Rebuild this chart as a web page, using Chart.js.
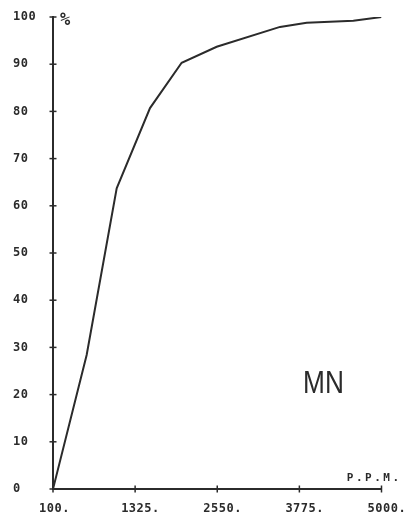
<!DOCTYPE html>
<html>
<head>
<meta charset="utf-8">
<script src="https://cdn.jsdelivr.net/npm/chart.js@4/dist/chart.umd.min.js"></script>
<style>
  html, body { margin: 0; padding: 0; background: #ffffff; }
  #wrap { width: 416px; height: 516px; }
</style>
</head>
<body>
<div id="wrap"><canvas id="c" width="416" height="516"></canvas></div>
<script>
// ---- data ----
const ppmValues = [100, 602, 1050, 1547, 2019, 2542, 3486, 3884, 4580, 5000];
const percentValues = [0, 28.4, 63.7, 80.7, 90.3, 93.7, 97.9, 98.8, 99.2, 100];
const xTickValues = [100, 1325, 2550, 3775, 5000];
const xTickLabels = ['100.', '1325.', '2550.', '3775.', '5000.'];
const yTickValues = [0, 10, 20, 30, 40, 50, 60, 70, 80, 90, 100];
const yUnitLabel = '%';
const xUnitLabel = 'P.P.M.';
const elementLabel = 'MN';

const INK = '#2b2b2b';
const tickFont = { family: "'DejaVu Sans Mono', monospace", size: 12, weight: 'bold' };

const decorPlugin = {
  id: 'decor',
  beforeDraw(chart) {
    chart.ctx.letterSpacing = '0.5px';
  },
  afterDraw(chart) {
    const ctx = chart.ctx;
    const xs = chart.scales.x, ys = chart.scales.y;
    const x0 = xs.getPixelForValue(xs.min);
    const y0 = ys.getPixelForValue(ys.min);
    ctx.save();
    ctx.strokeStyle = INK;
    ctx.lineWidth = 1.5;
    // cross ticks on y axis
    yTickValues.forEach(v => {
      const y = ys.getPixelForValue(v);
      ctx.beginPath(); ctx.moveTo(x0 - 3.5, y); ctx.lineTo(x0 + 3.5, y); ctx.stroke();
    });
    // cross ticks on x axis
    xTickValues.forEach(v => {
      const x = xs.getPixelForValue(v);
      ctx.beginPath(); ctx.moveTo(x, y0 - 3.5); ctx.lineTo(x, y0 + 3.5); ctx.stroke();
    });
    ctx.fillStyle = INK;
    // % unit
    ctx.letterSpacing = '0px';
    ctx.font = "bold 17px 'DejaVu Sans Mono', monospace";
    ctx.textAlign = 'left'; ctx.textBaseline = 'top';
    ctx.fillText(yUnitLabel, x0 + 7, ys.getPixelForValue(100) - 5);
    // P.P.M. unit
    ctx.letterSpacing = '2.5px';
    ctx.font = "bold 11px 'DejaVu Sans Mono', monospace";
    ctx.textAlign = 'right'; ctx.textBaseline = 'bottom';
    ctx.fillText(xUnitLabel, xs.getPixelForValue(5000) + 20, y0 - 5);
    // MN
    ctx.letterSpacing = '0px';
    ctx.translate(xs.getPixelForValue(4135), ys.getPixelForValue(22.2));
    ctx.scale(0.82, 1);
    ctx.font = "32px 'Liberation Sans', Arial, sans-serif";
    ctx.textAlign = 'center'; ctx.textBaseline = 'middle';
    ctx.fillText(elementLabel, 0, 0);
    ctx.restore();
  }
};

new Chart(document.getElementById('c'), {
  type: 'line',
  data: {
    datasets: [{
      data: ppmValues.map((x, i) => ({ x: x, y: percentValues[i] })),
      borderColor: INK,
      borderWidth: 2,
      pointRadius: 0,
      tension: 0,
      fill: false
    }]
  },
  options: {
    responsive: false,
    animation: false,
    events: [],
    layout: { autoPadding: false, padding: { left: 13, top: 17, right: 34.5, bottom: 0 } },
    plugins: { legend: { display: false }, tooltip: { enabled: false } },
    scales: {
      x: {
        type: 'linear',
        min: 100, max: 5000,
        afterBuildTicks: s => { s.ticks = xTickValues.map(v => ({ value: v })); },
        afterFit: s => { s.height = 27; s.paddingLeft = 0; s.paddingRight = 0; },
        grid: { display: false },
        border: { display: true, color: INK, width: 2 },
        ticks: {
          color: INK,
          font: tickFont,
          padding: 5,
          align: 'start',
          labelOffset: -14,
          maxRotation: 0,
          autoSkip: false,
          callback: (v, i) => xTickLabels[i]
        }
      },
      y: {
        min: 0, max: 100,
        afterBuildTicks: s => { s.ticks = yTickValues.map(v => ({ value: v })); },
        afterFit: s => { s.width = 40; s.paddingTop = 0; s.paddingBottom = 0; },
        grid: { display: false },
        border: { display: true, color: INK, width: 2 },
        ticks: {
          color: INK,
          font: tickFont,
          crossAlign: 'far',
          autoSkip: false,
          callback: v => String(v)
        }
      }
    }
  },
  plugins: [decorPlugin]
});
</script>
</body>
</html>
